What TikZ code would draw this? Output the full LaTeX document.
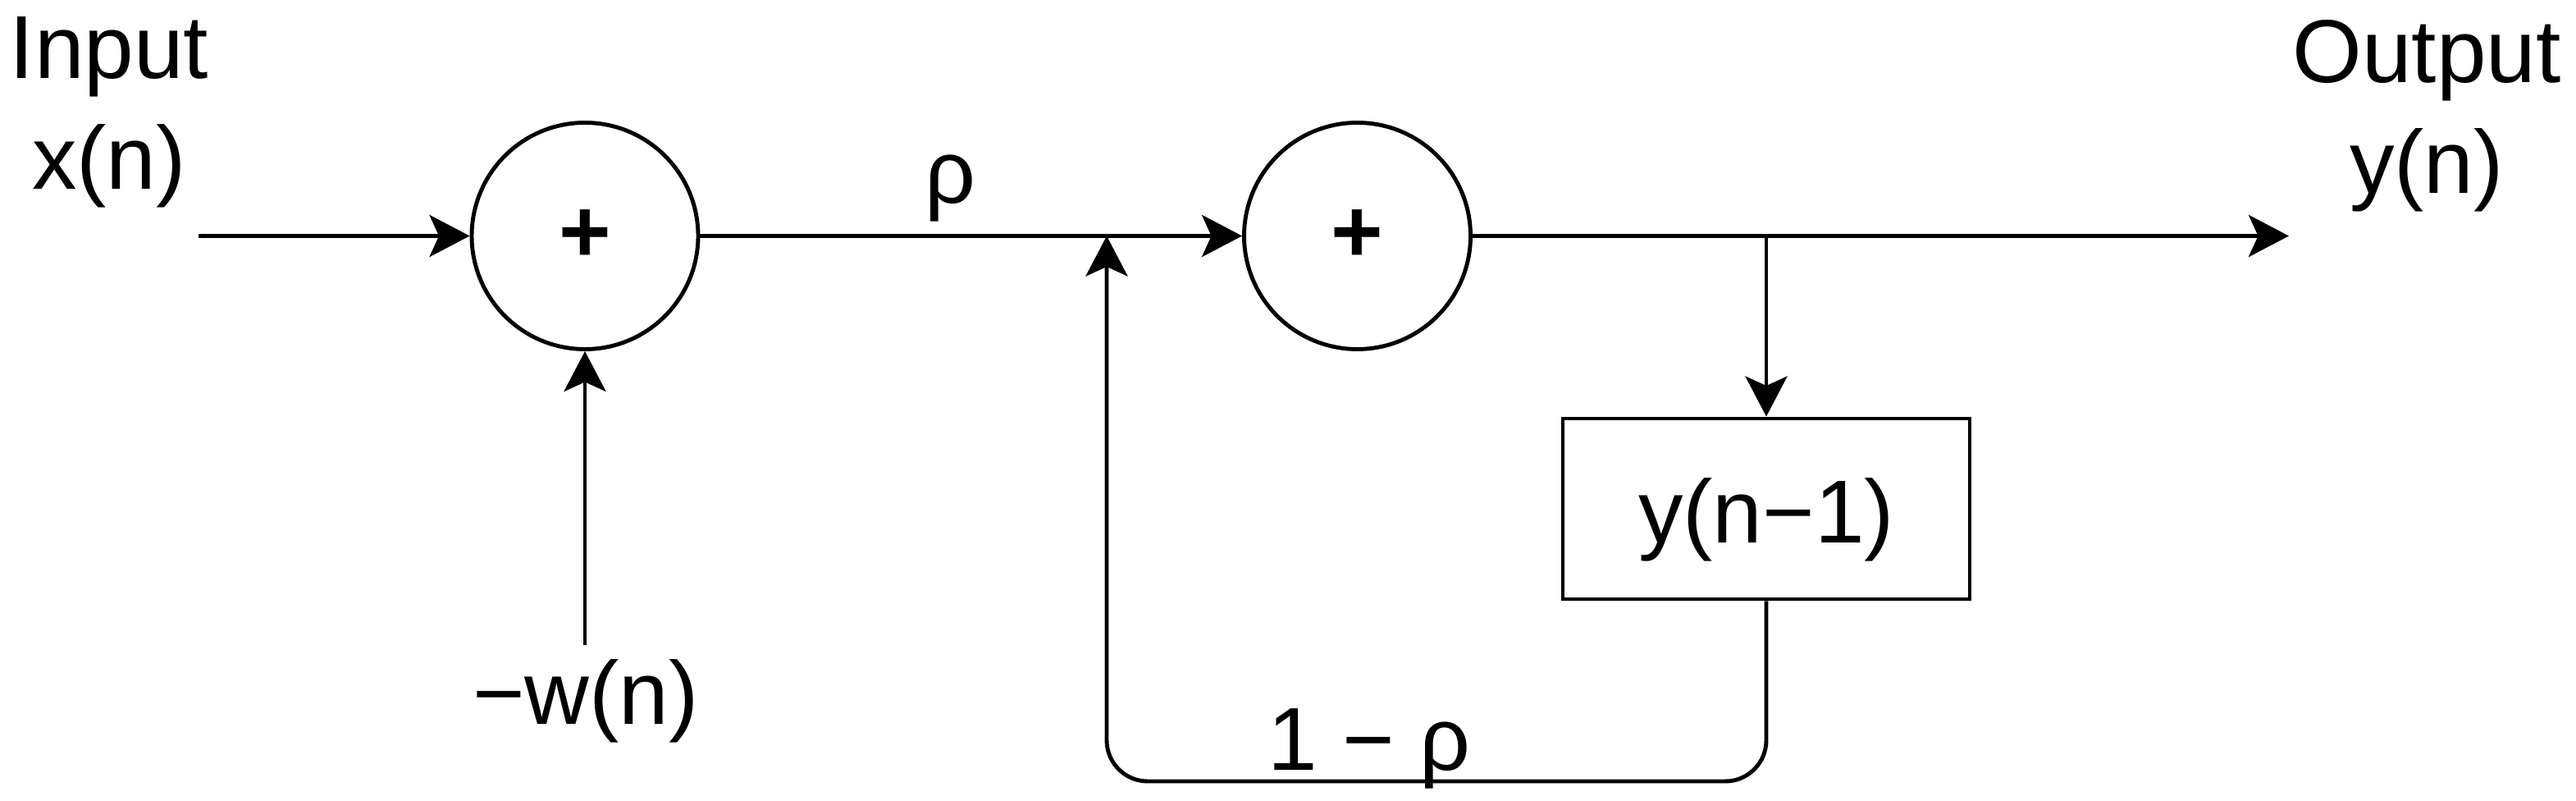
\documentclass[tikz,border=0pt]{standalone}
\usepackage{fontspec}
\setmainfont{Liberation Sans}
\usetikzlibrary{arrows.meta}

\tikzset{
    sig/.style={draw, line width=1.4pt, -{Stealth[length=0.49cm,width=0.51cm,inset=0.115cm]}},
    adder/.style={circle, draw, line width=1.4pt, minimum size=2.76cm, inner sep=0pt, font=\fontsize{31}{38.5}\selectfont\bfseries},
    delaybox/.style={rectangle, draw, line width=1.4pt, minimum width=4.96cm, minimum height=2.2cm,
        inner sep=0pt, text height=1.07cm, text depth=0.23cm}
}

\begin{document}
\begin{tikzpicture}[font=\fontsize{31}{38.5}\selectfont]
    \useasboundingbox (0,0) rectangle (31.40,9.76);

    % Draw the blocks
    \node[adder] (sum1) at (7.13,6.885) {+};
    \node[adder] (sum2) at (16.545,6.885) {+};
    \node[delaybox] (dly) at (21.53,3.56) {y(n−1)};

    % Draw the labels
    \node[align=center, inner sep=0pt] (inlbl) at (1.33,8.395) {Input\\x(n)};
    \node[align=center, inner sep=0pt] (outlbl) at (29.58,8.345) {Output\\y(n)};
    \node[anchor=base, inner sep=0pt] (wlbl) at (7.14,0.93) {−w(n)};
    \node[anchor=base, inner sep=0pt] (rholbl) at (11.58,7.28) {ρ};
    \node[anchor=base, inner sep=0pt] (fblbl) at (16.69,0.37) {1 − ρ};

    % Free ends of the signals
    \coordinate (inbeg) at (2.42,6.885);
    \coordinate (outend) at (27.90,6.885);
    \coordinate (wbeg) at (7.13,1.90);
    \coordinate (tap) at (21.53,6.885);
    \coordinate (fbjoin) at (13.49,6.885);
    \coordinate (fbbot) at (13.49,0.24);

    % Draw the signals
    \draw[sig] (inbeg) -- (sum1.west);
    \draw[sig] (wbeg) -- (sum1.south);
    \draw[sig] (sum1.east) -- (sum2.west);
    \draw[sig] (sum2.east) -- (outend);
    \draw[sig] (tap) -- (dly.north);
    \draw[sig, rounded corners=0.5cm] (dly.south) |- (fbbot) -- (fbjoin);
\end{tikzpicture}
\end{document}
